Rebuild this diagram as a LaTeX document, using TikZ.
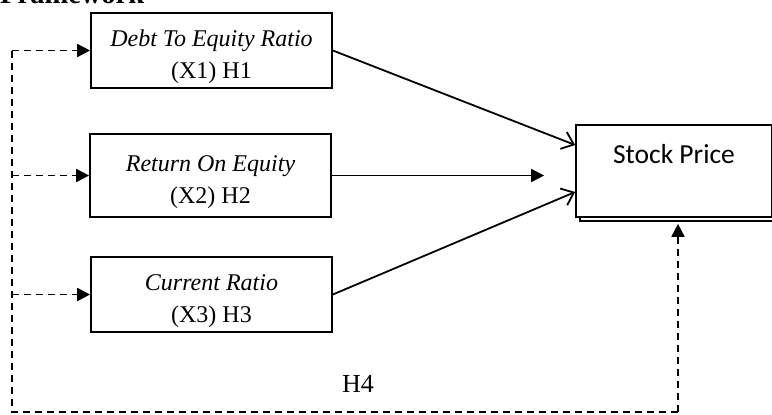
\documentclass[tikz,border=0pt]{standalone}
\usepackage{fontspec}
\setmainfont{Liberation Serif}
\newfontfamily\pricefont{Carlito}
\usetikzlibrary{arrows.meta,positioning}
\tikzset{
    var-box/.style = {draw, fill=white, line width=1.7pt, rectangle, minimum width=241pt, minimum height=75pt, inner sep=0pt, align=center, font=\fontsize{24}{32}\selectfont, execute at begin node={\rule{0pt}{62pt}}},
    price-box/.style = {draw, fill=white, line width=1.7pt, rectangle, minimum width=196pt, minimum height=92pt, inner sep=0pt},
    link/.style = {line width=1.8pt},
    dash-link/.style = {line width=1.8pt, dash pattern=on 7pt off 5pt},
    barb/.style = {-{Straight Barb[length=11pt,width=18pt]}},
    head/.style = {-{Triangle[length=13pt,width=13pt]}},
}
\begin{document}
\begin{tikzpicture}[x=1pt,y=1pt]
\useasboundingbox (0,0) rectangle (772,-415);
% heading, cut at the top of the page
\node [anchor=base west, inner sep=0pt, font=\bfseries\fontsize{28.5}{30}\selectfont] (title) at (0,-3) {Framework};
% the three variables
\node [var-box] (b1) at (211.5,-50.5) {\textit{Debt To Equity Ratio}\\(X1) H1};
\node [var-box, minimum height=83pt] (b2) at (210.5,-175.5) {\textit{Return On Equity}\\(X2) H2};
\node [var-box] (b3) at (211.5,-294.5) {\textit{Current Ratio}\\(X3) H3};
% dependent variable, with its second sheet behind
\node [price-box] (sp-back) at (678,-175) {};
\node [price-box] (sp) at (674,-171) {};
\node [font=\pricefont\fontsize{27.5}{30}\selectfont, below=17pt] (sp-text) at (sp.north) {Stock Price};
\node [font=\fontsize{26}{28}\selectfont] (h4) at (358,-384) {H4};
% partial effects
\draw [link, barb] (b1.east) -- ([yshift=26pt]sp.west);
\draw [link, head, shorten >=31pt] (b2.east) -- (b2.east -| sp.west);
\draw [link, barb] (b3.east) -- ([yshift=-21pt]sp.west);
% simultaneous effect
\coordinate (corner-l) at (12,-412);
\coordinate (corner-r) at (678,-412);
\draw [dash-link] (b1.west -| corner-l) -- (corner-l) -- (corner-r);
\draw [dash-link, head] (corner-r) -- ([yshift=-2pt]sp-back.south -| corner-r);
\foreach \b in {b1,b2,b3}
    \draw [dash-link, head] (\b.west -| corner-l) -- (\b.west);
\end{tikzpicture}
\end{document}
